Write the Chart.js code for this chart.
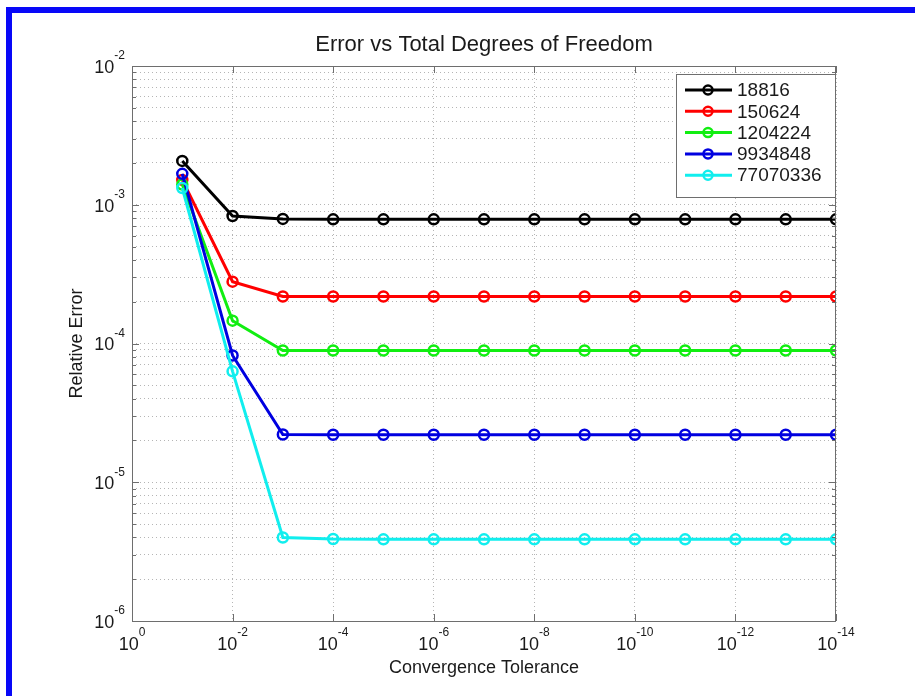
<!DOCTYPE html>
<html>
<head>
<meta charset="utf-8">
<script src="https://cdn.jsdelivr.net/npm/chart.js@4"></script>
<style>
  html, body { margin: 0; padding: 0; background: #fff; }
  #wrap { width: 915px; height: 696px; }
</style>
</head>
<body>
<div id="wrap"><canvas id="errChart" width="915" height="696"></canvas></div>
<script>
// convergence tolerance at each solve (x) and relative error per mesh size (y)
const tolerances = [1e-1, 1e-2, 1e-3, 1e-4, 1e-5, 1e-6, 1e-7, 1e-8, 1e-9, 1e-10, 1e-11, 1e-12, 1e-13, 1e-14];
const seriesNames = ['18816', '150624', '1204224', '9934848', '77070336'];
const err18816    = [2.07e-3, 8.3e-4, 7.9e-4, 7.85e-4, 7.85e-4, 7.85e-4, 7.85e-4, 7.85e-4, 7.85e-4, 7.85e-4, 7.85e-4, 7.85e-4, 7.85e-4, 7.85e-4];
const err150624   = [1.51e-3, 2.79e-4, 2.18e-4, 2.18e-4, 2.18e-4, 2.18e-4, 2.18e-4, 2.18e-4, 2.18e-4, 2.18e-4, 2.18e-4, 2.18e-4, 2.18e-4, 2.18e-4];
const err1204224  = [1.40e-3, 1.46e-4, 8.9e-5, 8.9e-5, 8.9e-5, 8.9e-5, 8.9e-5, 8.9e-5, 8.9e-5, 8.9e-5, 8.9e-5, 8.9e-5, 8.9e-5, 8.9e-5];
const err9934848  = [1.67e-3, 8.2e-5, 2.21e-5, 2.2e-5, 2.2e-5, 2.2e-5, 2.2e-5, 2.2e-5, 2.2e-5, 2.2e-5, 2.2e-5, 2.2e-5, 2.2e-5, 2.2e-5];
const err77070336 = [1.32e-3, 6.3e-5, 4.0e-6, 3.9e-6, 3.88e-6, 3.88e-6, 3.88e-6, 3.88e-6, 3.88e-6, 3.88e-6, 3.88e-6, 3.88e-6, 3.88e-6, 3.88e-6];
const seriesValues = [err18816, err150624, err1204224, err9934848, err77070336];
const seriesColors = ['#000000', '#ff0000', '#11ee11', '#0000e0', '#11eeee'];
// tick exponents shown on the axes
const xTickExps = [0, -2, -4, -6, -8, -10, -12, -14];
const yTickExps = [-2, -3, -4, -5, -6];

const FONT = '"Liberation Sans", Arial, Helvetica, sans-serif';
const TXT = '#1a1a1a';
const AXIS = '#6e6e6e';
const TITLE = 'Error vs Total Degrees of Freedom';

// all minor+major values for the y grid (1..9 x 10^k)
function yGridValues() {
    const vals = [];
    for (let e = -6; e < -2; e++) {
        for (let m = 1; m <= 9; m++) vals.push(m * Math.pow(10, e));
    }
    vals.push(1e-2);
    return vals;
}

function drawPow(ctx, exp, x, y, align) {
    const base = '10', sup = String(exp);
    ctx.font = '18px ' + FONT;
    const wb = ctx.measureText(base).width;
    ctx.font = '12px ' + FONT;
    const ws = ctx.measureText(sup).width;
    const x0 = align === 'center' ? x - (wb + ws) / 2 : x - (wb + ws);
    ctx.textAlign = 'left';
    ctx.textBaseline = 'middle';
    ctx.fillStyle = TXT;
    ctx.font = '18px ' + FONT;
    ctx.fillText(base, x0, y);
    ctx.font = '12px ' + FONT;
    ctx.fillText(sup, x0 + wb, y - 12);
}

const matlabLook = {
    id: 'matlabLook',
    beforeDraw(chart) {
        const {ctx, width, height} = chart;
        ctx.save();
        ctx.fillStyle = '#fff';
        ctx.fillRect(0, 0, width, height);
        // blue frame on top and left edge
        ctx.fillStyle = '#0808f8';
        ctx.fillRect(6, 7, width - 6, 6);
        ctx.fillRect(6, 7, 6, height - 7);
        ctx.restore();
    },
    afterDraw(chart) {
        const {ctx, chartArea: a, scales} = chart;
        const xs = scales.x, ys = scales.y;
        ctx.save();
        // title centred over the axes
        ctx.fillStyle = TXT;
        ctx.font = '22px ' + FONT;
        ctx.textAlign = 'center';
        ctx.textBaseline = 'middle';
        ctx.fillText(TITLE, (a.left + a.right) / 2, a.top - 21);
        // axes box
        ctx.strokeStyle = AXIS;
        ctx.lineWidth = 1;
        ctx.strokeRect(a.left + 0.5, a.top + 0.5, a.right - a.left - 1, a.bottom - a.top);
        // inward tick marks
        ctx.beginPath();
        xTickExps.forEach(e => {
            const px = Math.round(xs.getPixelForValue(Math.pow(10, e))) + 0.5;
            ctx.moveTo(px, a.bottom); ctx.lineTo(px, a.bottom - 7);
            ctx.moveTo(px, a.top); ctx.lineTo(px, a.top + 7);
        });
        yGridValues().forEach(v => {
            const py = Math.round(ys.getPixelForValue(v)) + 0.5;
            const major = Math.abs(Math.log10(v) - Math.round(Math.log10(v))) < 1e-9;
            const len = major ? 7 : 4;
            ctx.moveTo(a.left, py); ctx.lineTo(a.left + len, py);
            ctx.moveTo(a.right, py); ctx.lineTo(a.right - len, py);
        });
        ctx.stroke();
        // tick labels with superscript exponents
        xTickExps.forEach(e => {
            drawPow(ctx, e, xs.getPixelForValue(Math.pow(10, e)), a.bottom + 24, 'center');
        });
        yTickExps.forEach(e => {
            drawPow(ctx, e, a.left - 7, ys.getPixelForValue(Math.pow(10, e)) + 2, 'right');
        });

        // legend box in the top right corner
        const bx = a.right - 160, by = a.top + 8, bw = 159, bh = 123;
        ctx.fillStyle = '#fff';
        ctx.fillRect(bx, by, bw, bh);
        ctx.strokeStyle = AXIS;
        ctx.lineWidth = 1;
        ctx.strokeRect(bx + 0.5, by + 0.5, bw, bh);
        chart.data.datasets.forEach((ds, i) => {
            const ly = by + 16 + i * 21.3;
            ctx.strokeStyle = ds.borderColor;
            ctx.lineWidth = 3;
            ctx.beginPath();
            ctx.moveTo(bx + 9, ly); ctx.lineTo(bx + 56, ly);
            ctx.stroke();
            ctx.lineWidth = 2.5;
            ctx.beginPath();
            ctx.arc(bx + 32, ly, 4.5, 0, Math.PI * 2);
            ctx.stroke();
            ctx.fillStyle = TXT;
            ctx.font = '19px ' + FONT;
            ctx.textAlign = 'left';
            ctx.textBaseline = 'middle';
            ctx.fillText(ds.label, bx + 61, ly + 1);
        });
        ctx.restore();
    }
};

const ctx = document.getElementById('errChart').getContext('2d');
new Chart(ctx, {
    type: 'line',
    data: {
        datasets: seriesNames.map((name, i) => ({
            label: name,
            data: tolerances.map((t, j) => ({x: t, y: seriesValues[i][j]})),
            borderColor: seriesColors[i],
            backgroundColor: 'rgba(0,0,0,0)',
            pointBackgroundColor: 'rgba(0,0,0,0)',
            pointBorderColor: seriesColors[i],
            pointRadius: 5,
            pointBorderWidth: 2.5,
            borderWidth: 3,
            tension: 0,
            order: seriesNames.length - i  // later series drawn on top
        }))
    },
    options: {
        responsive: false,
        animation: false,
        layout: {padding: {top: 66, right: 79, bottom: 0, left: 0}},
        plugins: {
            legend: {display: false},
            tooltip: {enabled: false},
            title: {display: false}
        },
        scales: {
            x: {
                type: 'logarithmic',
                reverse: true,
                min: 1e-14,
                max: 1,
                afterBuildTicks: s => { s.ticks = xTickExps.map(e => ({value: Math.pow(10, e)})); },
                afterFit: s => { s.height = 75; },
                ticks: {display: false},
                grid: {color: '#b5b5b5', lineWidth: 1, drawTicks: false},
                border: {display: false, dash: [1, 3]},
                title: {
                    display: true,
                    text: 'Convergence Tolerance',
                    color: TXT,
                    font: {family: FONT, size: 18},
                    padding: {top: 0, bottom: 17}
                }
            },
            y: {
                type: 'logarithmic',
                min: 1e-6,
                max: 1e-2,
                afterBuildTicks: s => { s.ticks = yGridValues().map(v => ({value: v})); },
                afterFit: s => { s.width = 132; },
                ticks: {display: false},
                grid: {color: '#b5b5b5', lineWidth: 1, drawTicks: false},
                border: {display: false, dash: [1, 3]},
                title: {
                    display: true,
                    text: 'Relative Error',
                    color: TXT,
                    font: {family: FONT, size: 18},
                    padding: {top: 66, bottom: 0}
                }
            }
        }
    },
    plugins: [matlabLook]
});
</script>
</body>
</html>
